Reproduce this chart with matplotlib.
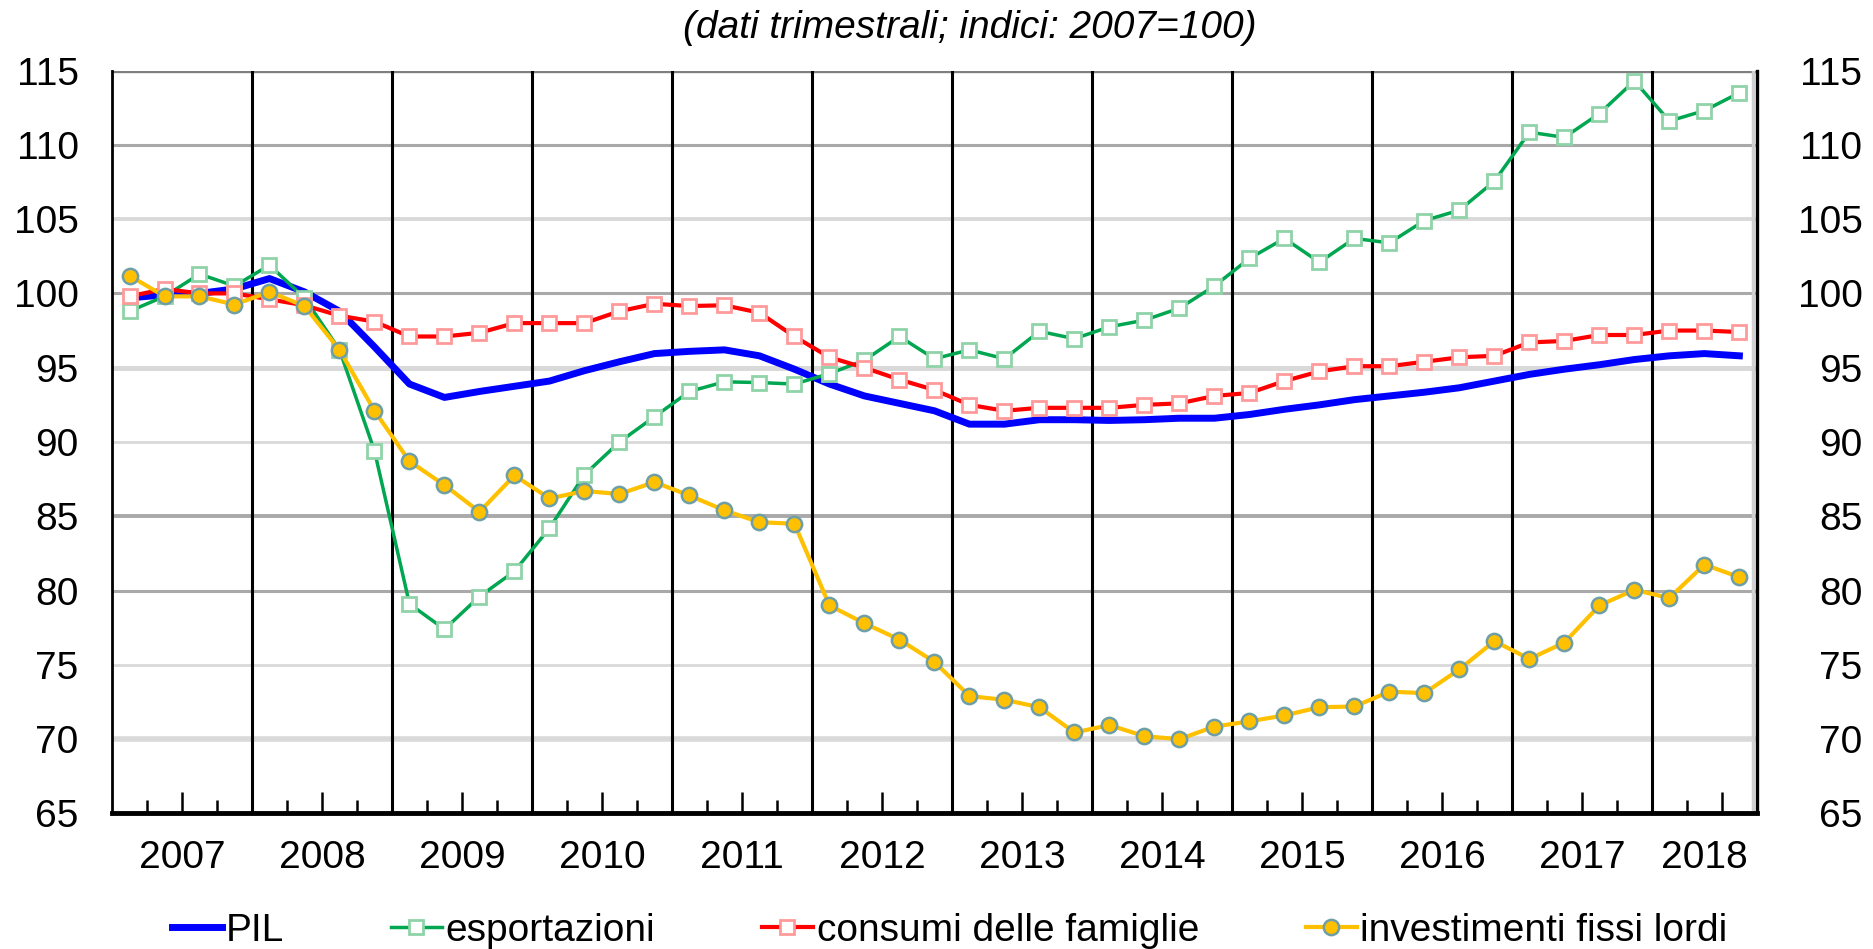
import numpy as np
import matplotlib.pyplot as plt

plt.rcParams['font.family'] = ['Liberation Sans', 'DejaVu Sans']

# quarterly data, 2007Q1 - 2018Q3 (index 2007=100)
years = list(range(2007, 2019))
quarters_per_year = [4] * 11 + [3]

pil = [99.7, 99.9, 100.0, 100.3, 101.0, 100.1, 98.8, 96.4, 93.9, 93.0, 93.4, 93.75,
       94.1, 94.8, 95.4, 95.95, 96.1, 96.2, 95.8, 94.9, 93.9, 93.1, 92.6, 92.1,
       91.2, 91.2, 91.5, 91.5, 91.45, 91.5, 91.6, 91.6, 91.85, 92.2, 92.5, 92.85,
       93.1, 93.35, 93.65, 94.1, 94.55, 94.9, 95.2, 95.55, 95.8, 95.95, 95.8]
esportazioni = [98.8, 99.8, 101.3, 100.5, 101.9, 99.7, 96.2, 89.4, 79.1, 77.4, 79.6, 81.3,
                84.2, 87.8, 90.0, 91.7, 93.4, 94.05, 94.0, 93.9, 94.6, 95.5, 97.1, 95.6,
                96.2, 95.6, 97.45, 96.95, 97.75, 98.2, 99.0, 100.5, 102.35, 103.7, 102.1, 103.7,
                103.4, 104.9, 105.6, 107.55, 110.85, 110.5, 112.1, 114.3, 111.6, 112.3, 113.5]
consumi = [99.8, 100.3, 100.0, 100.0, 99.6, 99.2, 98.5, 98.1, 97.1, 97.1, 97.35, 98.0,
           98.0, 98.0, 98.8, 99.3, 99.15, 99.2, 98.7, 97.1, 95.7, 95.0, 94.2, 93.5,
           92.5, 92.1, 92.3, 92.3, 92.3, 92.5, 92.6, 93.1, 93.3, 94.1, 94.75, 95.1,
           95.1, 95.4, 95.7, 95.8, 96.7, 96.8, 97.2, 97.2, 97.5, 97.5, 97.4]
investimenti = [101.2, 99.8, 99.8, 99.25, 100.1, 99.15, 96.2, 92.1, 88.7, 87.1, 85.3, 87.75,
                86.2, 86.7, 86.5, 87.3, 86.4, 85.4, 84.6, 84.5, 79.0, 77.8, 76.7, 75.2,
                72.9, 72.65, 72.15, 70.45, 70.95, 70.2, 70.0, 70.85, 71.2, 71.6, 72.15, 72.2,
                73.2, 73.1, 74.7, 76.6, 75.4, 76.5, 79.0, 80.05, 79.5, 81.75, 80.9]

y_ticks = list(range(65, 116, 5))

n = len(pil)
x = np.arange(n)

fig = plt.figure(figsize=(18.73, 9.49), dpi=100)
ax = fig.add_axes([0.0598, 0.1428, 0.938 - 0.0598, 0.9257 - 0.1428])
ax.set_xlim(-0.5, n - 0.5)
ax.set_ylim(65, 115)

# horizontal grid (shades vary as in the original)
grid_levels = [115, 110, 105, 100, 95, 90, 85, 80, 75, 70]
grid_colors = ['#7f7f7f', '#a9a9a9', '#d9d9d9', '#a9a9a9', '#d9d9d9',
               '#d9d9d9', '#a9a9a9', '#a9a9a9', '#d9d9d9', '#d9d9d9']
grid_widths = [2.4, 2.2, 2.8, 2.2, 3.6, 2.0, 2.8, 2.2, 2.0, 4.0]
for lev, c, w in zip(grid_levels, grid_colors, grid_widths):
    ax.axhline(lev, color=c, lw=w, zorder=1)

# year separators and quarter ticks
starts = np.cumsum([0] + quarters_per_year)
for b in starts[1:-1]:
    ax.axvline(b - 0.5, color='black', lw=2.2, zorder=2)
ax.axvline(n - 0.62, color='#d0d0d0', lw=2.5, zorder=1)

major, minor, centers = [], [], []
for s, q in zip(starts[:-1], quarters_per_year):
    centers.append(s + q / 2 - 0.5)
    for k in range(1, q):
        pos = s + k - 0.5
        (major if k == 2 else minor).append(pos)

ax.plot(x, pil, color='#0000ff', lw=5, solid_joinstyle='round', zorder=3, label='PIL')
ax.plot(x, esportazioni, color='#00a650', lw=2.5, marker='s', ms=9.5, mfc='white',
        mec='#8fd4a8', mew=2, zorder=4, label='esportazioni')
ax.plot(x, consumi, color='#ff0000', lw=3, marker='s', ms=9.5, mfc='white',
        mec='#ff9a9a', mew=2, zorder=5, label='consumi delle famiglie')
ax.plot(x, investimenti, color='#ffc000', lw=3, marker='o', ms=11, mfc='#ffc000',
        mec='#6f9fa6', mew=1.8, zorder=6, label='investimenti fissi lordi')

ax.set_xticks(major, labels=[])
ax.set_xticks(minor, minor=True)
ax.tick_params(axis='x', which='major', direction='in', length=15, width=1.8, color='black')
ax.tick_params(axis='x', which='minor', direction='in', length=9.5, width=1.8, color='black')

sec = ax.secondary_xaxis('bottom')
sec.set_xticks(centers, labels=[str(y) for y in years])
sec.tick_params(length=0, pad=19, labelsize=28)
sec.spines['bottom'].set_visible(False)

ax.set_yticks(y_ticks)
ax.tick_params(axis='y', length=0, pad=24, labelsize=28)

ax2 = ax.twinx()
ax2.set_ylim(65, 115)
ax2.set_yticks(y_ticks)
ax2.tick_params(axis='y', length=0, pad=76, labelsize=28)
for lab in ax2.get_yticklabels():
    lab.set_horizontalalignment('right')
for sp in ax2.spines.values():
    sp.set_visible(False)

ax.spines['top'].set_visible(False)
ax.spines['left'].set_linewidth(2)
ax.spines['right'].set_linewidth(2.4)
ax.spines['bottom'].set_linewidth(3.5)

fig.text(0.518, 0.97, '(dati trimestrali; indici: 2007=100)', style='italic',
         fontsize=28, ha='center', va='center')

fig.legend(loc='center', bbox_to_anchor=(0.507, 0.019), ncol=4, frameon=False,
           fontsize=28, handlelength=1.3, handletextpad=0.1, columnspacing=2.75,
           numpoints=1)

fig.savefig('out.png', dpi=100)
